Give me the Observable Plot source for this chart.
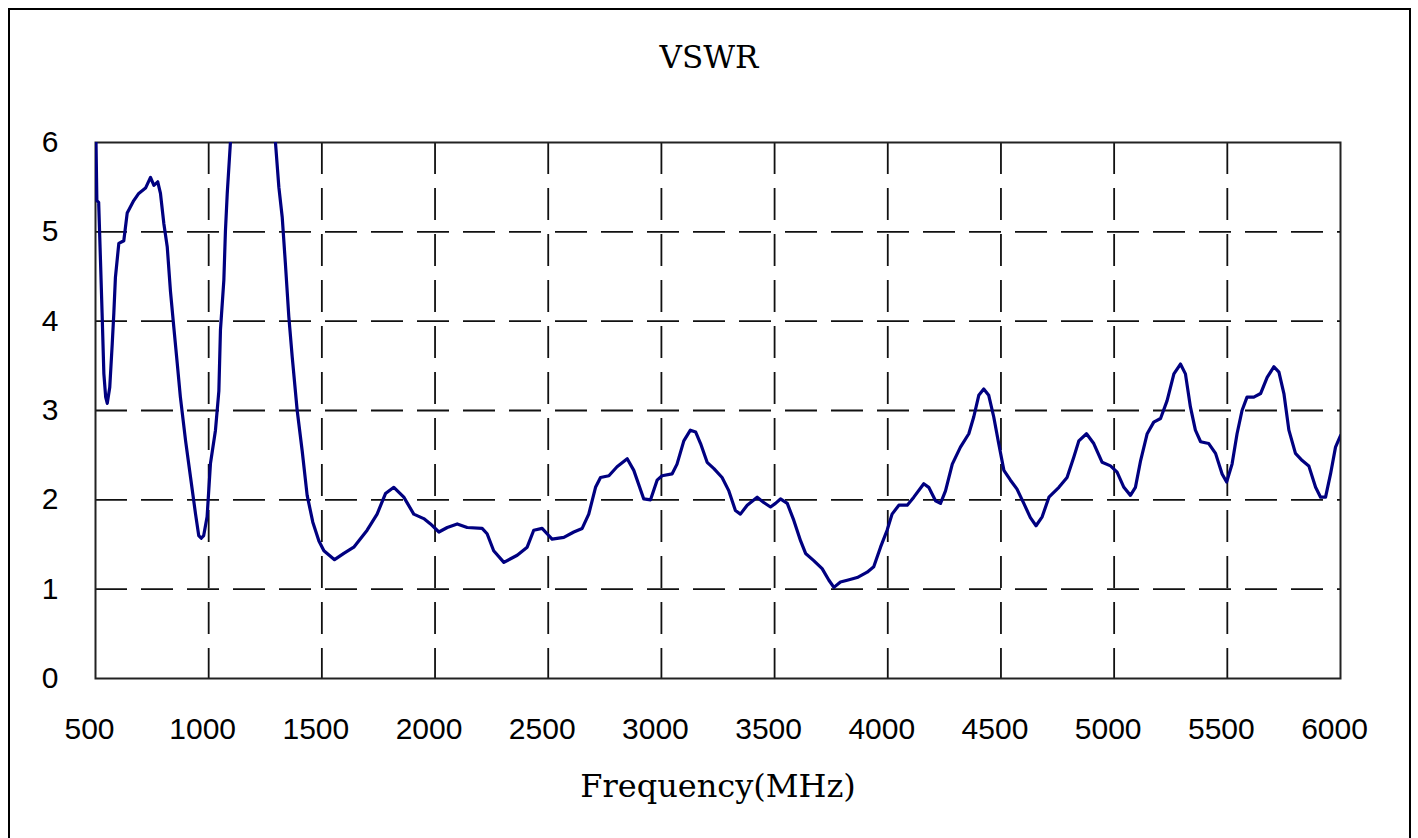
<!DOCTYPE html>
<html>
<head>
<meta charset="utf-8">
<script src="https://cdn.jsdelivr.net/npm/d3@7"></script>
<script src="https://cdn.jsdelivr.net/npm/@observablehq/plot@0.6"></script>
<style>
  html, body { margin: 0; padding: 0; background: #fff; width: 1418px; height: 838px; overflow: hidden; }
  #wrap { position: relative; width: 1418px; height: 838px; }
  #border { position: absolute; left: 8px; top: 8px; width: 1403px; height: 900px; border: 2px solid #000; box-sizing: border-box; pointer-events: none; }
  #title { height: 58px; padding-top: 42px; line-height: 31px; text-align: center; font-family: "DejaVu Serif", serif; font-size: 31px; color: #000; padding-left: 0; }
  svg { display: block; }
</style>
</head>
<body>
<div id="wrap">
  <div id="title">VSWR</div>
  <div id="chart"></div>
  <div id="border"></div>
</div>
<script>
const titleText = "VSWR";
const xLabel = "Frequency(MHz)";
const xTicks = [500, 1000, 1500, 2000, 2500, 3000, 3500, 4000, 4500, 5000, 5500, 6000];
const yTicks = [0, 1, 2, 3, 4, 5, 6];
const xGrid = [1000, 1500, 2000, 2500, 3000, 3500, 4000, 4500, 5000, 5500];
const yGrid = [1, 2, 3, 4, 5];

const freq = [500, 506, 514, 522, 529, 537, 545, 552, 563, 574, 581, 588, 603, 625, 640, 669, 691, 721, 743, 758, 775, 787, 802, 817, 831, 846, 861, 875, 898, 920, 942, 956, 967, 978, 993, 1008, 1030, 1045, 1052, 1067, 1074, 1082, 1096, 1120, 1160, 1200, 1240, 1270, 1295, 1310, 1325, 1339, 1354, 1369, 1391, 1413, 1435, 1460, 1487, 1509, 1556, 1597, 1641, 1700, 1744, 1781, 1818, 1862, 1906, 1950, 1980, 2017, 2054, 2098, 2142, 2208, 2230, 2259, 2304, 2363, 2407, 2436, 2473, 2495, 2517, 2569, 2613, 2650, 2679, 2709, 2731, 2768, 2804, 2849, 2878, 2922, 2952, 2981, 3003, 3047, 3069, 3099, 3128, 3151, 3173, 3202, 3232, 3268, 3298, 3327, 3349, 3379, 3423, 3452, 3482, 3504, 3526, 3556, 3585, 3615, 3637, 3673, 3710, 3740, 3762, 3791, 3821, 3865, 3909, 3938, 3968, 3997, 4019, 4049, 4086, 4115, 4159, 4181, 4211, 4233, 4255, 4285, 4321, 4358, 4380, 4402, 4424, 4446, 4468, 4490, 4513, 4542, 4571, 4601, 4630, 4655, 4682, 4712, 4756, 4792, 4822, 4844, 4878, 4910, 4947, 4984, 5013, 5043, 5072, 5094, 5117, 5146, 5175, 5205, 5234, 5264, 5293, 5315, 5337, 5359, 5382, 5418, 5448, 5477, 5497, 5521, 5543, 5565, 5587, 5617, 5647, 5676, 5706, 5728, 5750, 5772, 5801, 5831, 5860, 5890, 5912, 5934, 5956, 5978, 6000];

const vswr = [6.4, 5.35, 5.33, 4.68, 4.10, 3.41, 3.15, 3.08, 3.26, 3.75, 4.09, 4.49, 4.87, 4.90, 5.21, 5.35, 5.43, 5.49, 5.61, 5.52, 5.56, 5.43, 5.09, 4.83, 4.34, 3.93, 3.53, 3.15, 2.66, 2.25, 1.84, 1.60, 1.57, 1.60, 1.81, 2.41, 2.78, 3.22, 3.90, 4.46, 5.01, 5.43, 6.0, 6.8, 7.8, 8.2, 7.8, 7.0, 6.0, 5.5, 5.16, 4.64, 4.05, 3.60, 3.0, 2.55, 2.05, 1.75, 1.54, 1.43, 1.33, 1.40, 1.47, 1.66, 1.84, 2.07, 2.14, 2.03, 1.84, 1.79, 1.73, 1.64, 1.69, 1.73, 1.69, 1.68, 1.62, 1.43, 1.30, 1.38, 1.47, 1.66, 1.68, 1.62, 1.56, 1.58, 1.64, 1.68, 1.84, 2.14, 2.25, 2.27, 2.37, 2.46, 2.33, 2.01, 2.00, 2.22, 2.27, 2.29, 2.40, 2.66, 2.78, 2.76, 2.63, 2.42, 2.35, 2.25, 2.10, 1.88, 1.84, 1.94, 2.03, 1.97, 1.92, 1.96, 2.01, 1.96, 1.77, 1.54, 1.40, 1.32, 1.23, 1.10, 1.02, 1.08, 1.10, 1.13, 1.19, 1.25, 1.47, 1.66, 1.84, 1.94, 1.94, 2.03, 2.18, 2.14, 1.99, 1.96, 2.10, 2.40, 2.59, 2.74, 2.93, 3.17, 3.24, 3.17, 2.93, 2.63, 2.33, 2.22, 2.12, 1.96, 1.80, 1.71, 1.81, 2.03, 2.14, 2.25, 2.48, 2.66, 2.74, 2.63, 2.42, 2.38, 2.31, 2.14, 2.05, 2.14, 2.44, 2.74, 2.87, 2.91, 3.11, 3.41, 3.52, 3.41, 3.04, 2.78, 2.65, 2.63, 2.52, 2.29, 2.20, 2.40, 2.74, 3.00, 3.15, 3.15, 3.19, 3.37, 3.49, 3.43, 3.19, 2.78, 2.52, 2.44, 2.38, 2.14, 2.03, 2.03, 2.29, 2.59, 2.72];

document.getElementById("title").textContent = titleText;
const data = freq.map((f, i) => ({f, v: vswr[i]}));

const chart = Plot.plot({
  width: 1418,
  height: 738,
  marginTop: 42,
  marginBottom: 160,
  marginLeft: 95,
  marginRight: 78,
  style: {background: "#fff", fontFamily: "'Liberation Sans', Arial, sans-serif", fontSize: "30px", color: "#000", overflow: "visible"},
  x: {domain: [500, 6000]},
  y: {domain: [0, 6]},
  marks: [
    Plot.gridX(xGrid, {stroke: "#111", strokeOpacity: 1, strokeWidth: 1.8, strokeDasharray: "32,14"}),
    Plot.gridY(yGrid, {stroke: "#111", strokeOpacity: 1, strokeWidth: 1.8, strokeDasharray: "32,14"}),
    Plot.frame({stroke: "#222", strokeWidth: 2}),
    Plot.line(data, {x: "f", y: "v", stroke: "#000080", strokeWidth: 3.2, clip: true}),
    Plot.axisX(xTicks, {tickSize: 0, tickPadding: 39, dx: -6, tickFormat: d => String(d), label: xLabel, labelAnchor: "center", labelArrow: "none", labelOffset: 118, fontSize: 30}),
    Plot.axisY(yTicks, {tickSize: 0, tickPadding: 37, tickFormat: d => String(d), label: null, fontSize: 30})
  ]
});
document.getElementById("chart").appendChild(chart);
// style the x-axis label as serif like the reference
chart.querySelectorAll("text").forEach(t => {
  if (t.textContent === xLabel) { t.style.fontFamily = "'DejaVu Serif', serif"; t.style.fontSize = "32px"; }
});
</script>
</body>
</html>
